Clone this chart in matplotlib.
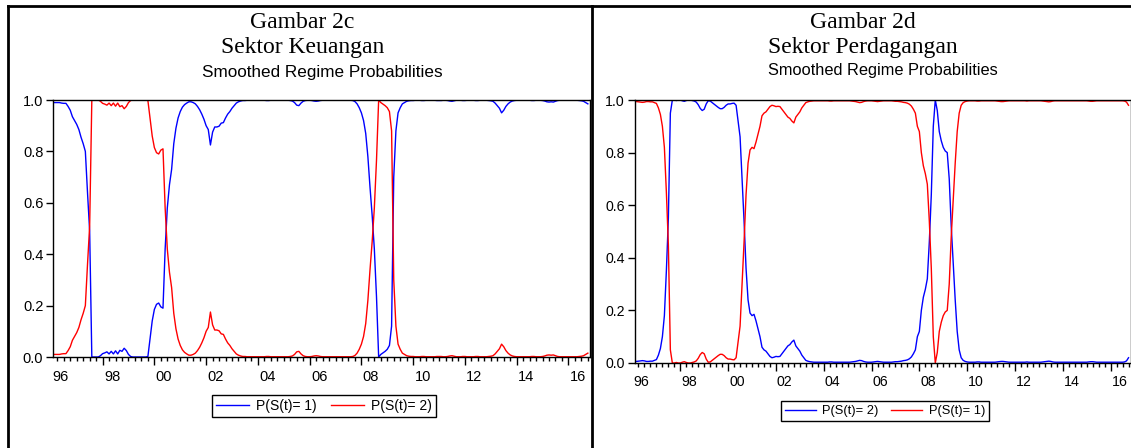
"""Smoothed regime probabilities, two sectors side by side (EViews-style panels)."""

import matplotlib

matplotlib.use("Agg")
import matplotlib.pyplot as plt
import pandas as pd
from matplotlib.lines import Line2D
from matplotlib.ticker import FixedLocator, MultipleLocator, NullFormatter

W, H = 1131, 448
SERIF = "Liberation Serif"
SANS = "Liberation Sans"

# Monthly observations, 1996M02 .. 2016M10
months = pd.period_range("1996-02", periods=249, freq="M")

year_ticks = [1996, 1998, 2000, 2002, 2004, 2006, 2008, 2010, 2012, 2014, 2016]
year_labels = ["96", "98", "00", "02", "04", "06", "08", "10", "12", "14", "16"]
y_ticks = [0.0, 0.2, 0.4, 0.6, 0.8, 1.0]

# Gambar 2c, Sektor Keuangan
keu_p1 = [
    0.990, 0.990, 0.990, 0.990, 0.988, 0.987, 0.987, 0.975, 0.960, 0.935, 0.920, 0.905,
    0.885, 0.855, 0.830, 0.800, 0.640, 0.490, 0.000, 0.000, 0.000, 0.000, 0.005, 0.013,
    0.016, 0.020, 0.012, 0.022, 0.012, 0.024, 0.012, 0.026, 0.022, 0.034, 0.025, 0.010,
    0.002, 0.000, 0.000, 0.000, 0.000, 0.000, 0.000, 0.000, 0.002, 0.070, 0.140, 0.185,
    0.205, 0.210, 0.195, 0.190, 0.420, 0.580, 0.670, 0.730, 0.830, 0.890, 0.930, 0.955,
    0.972, 0.982, 0.988, 0.993, 0.993, 0.990, 0.985, 0.975, 0.962, 0.945, 0.925, 0.900,
    0.885, 0.825, 0.875, 0.895, 0.895, 0.898, 0.910, 0.912, 0.930, 0.945, 0.955, 0.968,
    0.978, 0.988, 0.993, 0.996, 0.998, 0.998, 0.999, 0.999, 0.999, 0.999, 0.999, 0.999,
    0.999, 0.999, 0.999, 0.998, 0.998, 0.999, 0.999, 0.999, 0.999, 0.999, 0.999, 0.999,
    0.999, 0.999, 0.998, 0.996, 0.990, 0.980, 0.978, 0.988, 0.995, 0.998, 0.999, 0.999,
    0.998, 0.996, 0.995, 0.996, 0.998, 0.999, 0.999, 0.999, 0.999, 0.999, 0.999, 0.999,
    0.999, 0.999, 0.999, 0.999, 0.999, 0.999, 0.999, 0.998, 0.994, 0.985, 0.970, 0.950,
    0.920, 0.870, 0.780, 0.660, 0.550, 0.420, 0.235, 0.000, 0.010, 0.016, 0.022, 0.030,
    0.045, 0.120, 0.700, 0.880, 0.950, 0.970, 0.985, 0.990, 0.995, 0.997, 0.998, 0.998,
    0.999, 0.999, 0.999, 0.998, 0.998, 0.999, 0.999, 0.999, 0.999, 0.999, 0.998, 0.998,
    0.998, 0.999, 0.999, 0.998, 0.996, 0.995, 0.997, 0.999, 0.999, 0.999, 0.998, 0.998,
    0.999, 0.999, 0.999, 0.999, 0.998, 0.998, 0.999, 0.999, 0.999, 0.999, 0.998, 0.997,
    0.995, 0.988, 0.978, 0.968, 0.950, 0.960, 0.975, 0.985, 0.992, 0.996, 0.998, 0.999,
    0.999, 0.999, 0.999, 0.999, 0.999, 0.999, 0.998, 0.998, 0.999, 0.999, 0.999, 0.998,
    0.996, 0.993, 0.992, 0.993, 0.992, 0.995, 0.998, 0.999, 0.999, 0.999, 0.999, 0.999,
    0.999, 0.999, 0.999, 0.999, 0.998, 0.997, 0.995, 0.990, 0.985,
]
keu_p2 = [
    0.010, 0.010, 0.010, 0.010, 0.012, 0.013, 0.013, 0.025, 0.040, 0.065, 0.080, 0.095,
    0.115, 0.145, 0.170, 0.200, 0.360, 0.510, 1.000, 1.000, 1.000, 1.000, 0.995, 0.987,
    0.984, 0.980, 0.988, 0.978, 0.988, 0.976, 0.988, 0.974, 0.978, 0.966, 0.975, 0.990,
    0.998, 1.000, 1.000, 1.000, 1.000, 1.000, 1.000, 1.000, 0.998, 0.930, 0.860, 0.815,
    0.795, 0.790, 0.805, 0.810, 0.580, 0.420, 0.330, 0.270, 0.170, 0.110, 0.070, 0.045,
    0.028, 0.018, 0.012, 0.007, 0.007, 0.010, 0.015, 0.025, 0.038, 0.055, 0.075, 0.100,
    0.115, 0.175, 0.125, 0.105, 0.105, 0.102, 0.090, 0.088, 0.070, 0.055, 0.045, 0.032,
    0.022, 0.012, 0.007, 0.004, 0.002, 0.002, 0.001, 0.001, 0.001, 0.001, 0.001, 0.001,
    0.001, 0.001, 0.001, 0.002, 0.002, 0.001, 0.001, 0.001, 0.001, 0.001, 0.001, 0.001,
    0.001, 0.001, 0.002, 0.004, 0.010, 0.020, 0.022, 0.012, 0.005, 0.002, 0.001, 0.001,
    0.002, 0.004, 0.005, 0.004, 0.002, 0.001, 0.001, 0.001, 0.001, 0.001, 0.001, 0.001,
    0.001, 0.001, 0.001, 0.001, 0.001, 0.001, 0.001, 0.002, 0.006, 0.015, 0.030, 0.050,
    0.080, 0.130, 0.220, 0.340, 0.450, 0.580, 0.765, 1.000, 0.990, 0.984, 0.978, 0.970,
    0.955, 0.880, 0.300, 0.120, 0.050, 0.030, 0.015, 0.010, 0.005, 0.003, 0.002, 0.002,
    0.001, 0.001, 0.001, 0.002, 0.002, 0.001, 0.001, 0.001, 0.001, 0.001, 0.002, 0.002,
    0.002, 0.001, 0.001, 0.002, 0.004, 0.005, 0.003, 0.001, 0.001, 0.001, 0.002, 0.002,
    0.001, 0.001, 0.001, 0.001, 0.002, 0.002, 0.001, 0.001, 0.001, 0.001, 0.002, 0.003,
    0.005, 0.012, 0.022, 0.032, 0.050, 0.040, 0.025, 0.015, 0.008, 0.004, 0.002, 0.001,
    0.001, 0.001, 0.001, 0.001, 0.001, 0.001, 0.002, 0.002, 0.001, 0.001, 0.001, 0.002,
    0.004, 0.007, 0.008, 0.007, 0.008, 0.005, 0.002, 0.001, 0.001, 0.001, 0.001, 0.001,
    0.001, 0.001, 0.001, 0.001, 0.002, 0.003, 0.005, 0.010, 0.015,
]

# Gambar 2d, Sektor Perdagangan
perd_p1 = [
    0.994, 0.994, 0.993, 0.992, 0.991, 0.992, 0.994, 0.994, 0.993, 0.993, 0.990, 0.987,
    0.970, 0.945, 0.900, 0.820, 0.650, 0.450, 0.050, 0.000, 0.000, 0.002, 0.000, 0.000,
    0.003, 0.005, 0.002, 0.000, 0.000, 0.002, 0.004, 0.008, 0.018, 0.032, 0.040, 0.035,
    0.015, 0.003, 0.004, 0.010, 0.016, 0.022, 0.028, 0.033, 0.033, 0.028, 0.020, 0.015,
    0.015, 0.013, 0.012, 0.020, 0.080, 0.140, 0.300, 0.460, 0.640, 0.760, 0.810, 0.820,
    0.815, 0.840, 0.870, 0.900, 0.940, 0.950, 0.955, 0.965, 0.975, 0.980, 0.978, 0.975,
    0.976, 0.975, 0.965, 0.955, 0.945, 0.935, 0.930, 0.920, 0.913, 0.935, 0.945, 0.955,
    0.970, 0.980, 0.990, 0.993, 0.995, 0.996, 0.997, 0.997, 0.997, 0.997, 0.997, 0.997,
    0.997, 0.997, 0.996, 0.996, 0.997, 0.997, 0.997, 0.997, 0.997, 0.997, 0.997, 0.997,
    0.997, 0.996, 0.995, 0.994, 0.992, 0.990, 0.991, 0.994, 0.996, 0.997, 0.997, 0.997,
    0.996, 0.995, 0.994, 0.995, 0.996, 0.997, 0.997, 0.997, 0.997, 0.997, 0.996, 0.995,
    0.995, 0.994, 0.993, 0.991, 0.990, 0.988, 0.984, 0.977, 0.965, 0.950, 0.900, 0.880,
    0.800, 0.750, 0.720, 0.680, 0.540, 0.360, 0.100, 0.000, 0.040, 0.120, 0.155, 0.180,
    0.194, 0.200, 0.300, 0.480, 0.620, 0.760, 0.880, 0.950, 0.980, 0.990, 0.994, 0.996,
    0.997, 0.997, 0.997, 0.997, 0.996, 0.996, 0.997, 0.997, 0.997, 0.997, 0.997, 0.997,
    0.997, 0.997, 0.996, 0.995, 0.994, 0.994, 0.995, 0.996, 0.997, 0.997, 0.997, 0.997,
    0.997, 0.997, 0.997, 0.997, 0.997, 0.996, 0.997, 0.997, 0.997, 0.997, 0.997, 0.997,
    0.997, 0.996, 0.995, 0.994, 0.993, 0.994, 0.996, 0.997, 0.997, 0.997, 0.997, 0.997,
    0.997, 0.997, 0.997, 0.997, 0.997, 0.997, 0.997, 0.997, 0.997, 0.997, 0.997, 0.997,
    0.996, 0.995, 0.995, 0.996, 0.997, 0.997, 0.997, 0.997, 0.997, 0.997, 0.997, 0.997,
    0.997, 0.997, 0.997, 0.997, 0.997, 0.997, 0.996, 0.992, 0.980,
]
perd_p2 = [
    0.006, 0.006, 0.007, 0.008, 0.009, 0.008, 0.006, 0.006, 0.007, 0.007, 0.010, 0.013,
    0.030, 0.055, 0.100, 0.180, 0.350, 0.550, 0.950, 1.000, 1.000, 0.998, 1.000, 1.000,
    0.997, 0.995, 0.998, 1.000, 1.000, 0.998, 0.996, 0.992, 0.982, 0.968, 0.960, 0.965,
    0.985, 0.997, 0.996, 0.990, 0.984, 0.978, 0.972, 0.967, 0.967, 0.972, 0.980, 0.985,
    0.985, 0.987, 0.988, 0.980, 0.920, 0.860, 0.700, 0.540, 0.360, 0.240, 0.190, 0.180,
    0.185, 0.160, 0.130, 0.100, 0.060, 0.050, 0.045, 0.035, 0.025, 0.020, 0.022, 0.025,
    0.024, 0.025, 0.035, 0.045, 0.055, 0.065, 0.070, 0.080, 0.087, 0.065, 0.055, 0.045,
    0.030, 0.020, 0.010, 0.007, 0.005, 0.004, 0.003, 0.003, 0.003, 0.003, 0.003, 0.003,
    0.003, 0.003, 0.004, 0.004, 0.003, 0.003, 0.003, 0.003, 0.003, 0.003, 0.003, 0.003,
    0.003, 0.004, 0.005, 0.006, 0.008, 0.010, 0.009, 0.006, 0.004, 0.003, 0.003, 0.003,
    0.004, 0.005, 0.006, 0.005, 0.004, 0.003, 0.003, 0.003, 0.003, 0.003, 0.004, 0.005,
    0.005, 0.006, 0.007, 0.009, 0.010, 0.012, 0.016, 0.023, 0.035, 0.050, 0.100, 0.120,
    0.200, 0.250, 0.280, 0.320, 0.460, 0.640, 0.900, 1.000, 0.960, 0.880, 0.845, 0.820,
    0.806, 0.800, 0.700, 0.520, 0.380, 0.240, 0.120, 0.050, 0.020, 0.010, 0.006, 0.004,
    0.003, 0.003, 0.003, 0.003, 0.004, 0.004, 0.003, 0.003, 0.003, 0.003, 0.003, 0.003,
    0.003, 0.003, 0.004, 0.005, 0.006, 0.006, 0.005, 0.004, 0.003, 0.003, 0.003, 0.003,
    0.003, 0.003, 0.003, 0.003, 0.003, 0.004, 0.003, 0.003, 0.003, 0.003, 0.003, 0.003,
    0.003, 0.004, 0.005, 0.006, 0.007, 0.006, 0.004, 0.003, 0.003, 0.003, 0.003, 0.003,
    0.003, 0.003, 0.003, 0.003, 0.003, 0.003, 0.003, 0.003, 0.003, 0.003, 0.003, 0.003,
    0.004, 0.005, 0.005, 0.004, 0.003, 0.003, 0.003, 0.003, 0.003, 0.003, 0.003, 0.003,
    0.003, 0.003, 0.003, 0.003, 0.003, 0.003, 0.004, 0.008, 0.020,
]

BLUE = "#0000ff"
RED = "#ff0000"


def fx(px: float) -> float:
    return px / W


def fy(py: float) -> float:
    return 1 - py / H


def axes_rect(x0: float, x1: float, y_top: float, y_bot: float) -> list[float]:
    return [fx(x0), fy(y_bot), (x1 - x0) / W, (y_bot - y_top) / H]


def draw_panel(ax, series, tick_size):
    t = months.year + (months.month - 1) / 12
    for values, color, label in series:
        ax.plot(t, values, color=color, lw=1.0, label=label)

    start = 1996 + 1 / 12
    ax.set_xlim(start, start + 20.75)
    ax.set_ylim(0, 1)
    ax.set_yticks(y_ticks)
    ax.set_yticklabels([f"{v:.1f}" for v in y_ticks], family=SANS, fontsize=tick_size)

    ax.xaxis.set_major_locator(FixedLocator(year_ticks))
    ax.xaxis.set_minor_locator(MultipleLocator(0.25))
    ax.xaxis.set_major_formatter(NullFormatter())
    ax.tick_params(axis="x", which="major", length=6, width=1, direction="out")
    ax.tick_params(axis="x", which="minor", length=3, width=1, direction="out")
    ax.tick_params(axis="y", length=5, width=1, direction="out", pad=2)
    # EViews puts the year label a little to the right of the year tick
    for yr, lab in zip(year_ticks, year_labels):
        ax.annotate(lab, xy=(yr + 0.37, 0), xycoords=("data", "axes fraction"),
                    xytext=(0, -9), textcoords="offset points", ha="center", va="top",
                    family=SANS, fontsize=tick_size)
    for spine in ax.spines.values():
        spine.set_linewidth(1.0)
        spine.set_color("black")


fig = plt.figure(figsize=(W / 100, H / 100), dpi=100)

ax_l = fig.add_axes(axes_rect(53, 590, 100, 357))
draw_panel(ax_l, [(keu_p1, BLUE, "P(S(t)= 1)"), (keu_p2, RED, "P(S(t)= 2)")], 10.5)

ax_r = fig.add_axes(axes_rect(634.5, 1130.5, 100, 363))
draw_panel(ax_r, [(perd_p2, BLUE, "P(S(t)= 2)"), (perd_p1, RED, "P(S(t)= 1)")], 10.2)

# titles
for cx, cy, text, fam, size in [
    (302, 22, "Gambar 2c", SERIF, 17),
    (303, 48, "Sektor Keuangan", SERIF, 17),
    (322, 72, "Smoothed Regime Probabilities", SANS, 12.3),
    (863, 22, "Gambar 2d", SERIF, 17),
    (863, 48, "Sektor Perdagangan", SERIF, 17),
    (883, 71, "Smoothed Regime Probabilities", SANS, 11.8),
]:
    fig.text(fx(cx), fy(cy), text, ha="center", va="center", family=fam, fontsize=size)

# legends
for ax, cx, cy, size in [(ax_l, 324, 406, 10.0), (ax_r, 885, 411, 9.3)]:
    leg = ax.legend(loc="center", bbox_to_anchor=(fx(cx), fy(cy)),
                    bbox_transform=fig.transFigure, ncol=2, frameon=True,
                    fancybox=False, framealpha=1, edgecolor="black",
                    prop={"family": SANS, "size": size}, handlelength=2.4,
                    handletextpad=0.5, columnspacing=1.0, borderpad=0.3,
                    borderaxespad=0)
    leg.get_frame().set_linewidth(1.0)

# panel frames
frame = [
    ([7.5, 7.5], [6.5, H]),
    ([7.5, W], [6.5, 6.5]),
    ([592, 592], [6.5, H]),
]
for xs, ys in frame:
    fig.add_artist(Line2D([fx(x) for x in xs], [fy(y) for y in ys],
                          transform=fig.transFigure, color="black", lw=2.0))

fig.savefig("out.png", dpi=100)
